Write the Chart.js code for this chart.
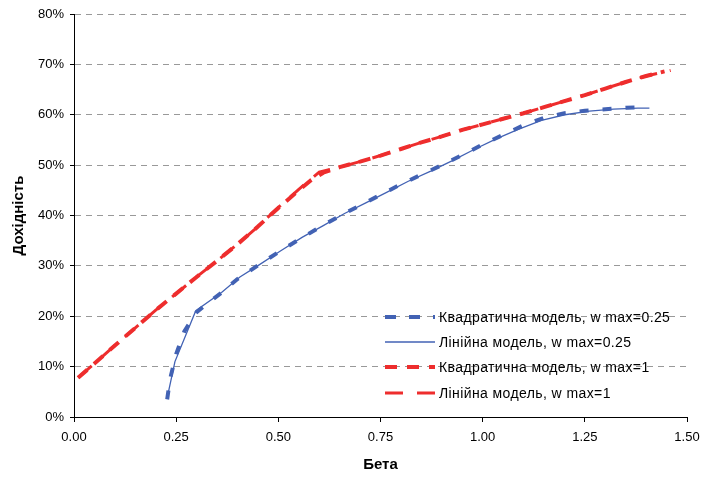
<!DOCTYPE html>
<html>
<head>
<meta charset="utf-8">
<script src="https://cdn.jsdelivr.net/npm/chart.js@4.4.1/dist/chart.umd.min.js"></script>
<style>
  html, body { margin: 0; padding: 0; background: #fff; }
  #wrap { width: 703px; height: 478px; }
</style>
</head>
<body>
<div id="wrap"><canvas id="myChart" width="703" height="478"></canvas></div>
<script>
var seriesNames = [
    'Квадратична модель, w max=0.25',
    'Лінійна модель, w max=0.25',
    'Квадратична модель, w max=1',
    'Лінійна модель, w max=1'
];

// blue, quadratic model, w max = 0.25
var betaBQ = [0.228, 0.235, 0.25, 0.27, 0.30, 0.33, 0.36, 0.40, 0.45, 0.50, 0.55, 0.60, 0.65, 0.70,
    0.75, 0.80, 0.85, 0.90, 0.95, 1.00, 1.05, 1.10, 1.15, 1.20, 1.25, 1.30, 1.35, 1.385];
var retBQ = [3.5, 7.5, 12.5, 17.0, 20.8, 22.8, 24.6, 27.4, 30.1, 32.7, 35.2, 37.6, 39.9, 42.0,
    44.1, 46.2, 48.1, 50.0, 52.0, 54.1, 56.0, 57.9, 59.4, 60.3, 60.8, 61.1, 61.4, 61.5];

// blue, linear model, w max = 0.25
var betaBL = [0.228, 0.247, 0.298, 0.361, 0.406, 0.453, 0.506, 0.559, 0.610, 0.662, 0.714, 0.765,
    0.818, 0.873, 0.926, 0.979, 1.033, 1.087, 1.144, 1.201, 1.261, 1.320, 1.380, 1.408];
var retBL = [3.8, 11.0, 21.1, 24.7, 27.8, 30.2, 33.0, 35.7, 38.0, 40.4, 42.5, 44.6,
    46.8, 48.8, 50.9, 53.1, 55.2, 57.1, 58.9, 60.0, 60.7, 61.1, 61.3, 61.3];

// red, quadratic model, w max = 1
var betaRQ = [0.01, 0.05, 0.10, 0.15, 0.20, 0.25, 0.30, 0.35, 0.40, 0.45, 0.50, 0.55, 0.58, 0.61,
    0.65, 0.70, 0.75, 0.80, 0.85, 0.90, 0.95, 1.00, 1.05, 1.10, 1.15, 1.20, 1.25, 1.30, 1.35, 1.40, 1.445];
var retRQ = [7.8, 10.6, 14.2, 17.7, 21.2, 24.5, 27.8, 31.0, 34.3, 37.8, 41.5, 45.0, 47.0, 48.5,
    49.6, 50.7, 51.9, 53.2, 54.5, 55.7, 57.0, 58.1, 59.2, 60.3, 61.5, 62.7, 63.9, 65.2, 66.5, 67.7, 68.6];

// red, linear model, w max = 1
var betaRL = [0.01, 0.05, 0.10, 0.15, 0.20, 0.25, 0.30, 0.35, 0.40, 0.45, 0.50, 0.55, 0.60,
    0.65, 0.70, 0.75, 0.80, 0.85, 0.90, 0.95, 1.00, 1.05, 1.10, 1.15, 1.20, 1.25, 1.30, 1.35, 1.40, 1.46];
var retRL = [7.8, 10.6, 14.2, 17.7, 21.2, 24.5, 27.8, 31.0, 34.3, 37.8, 41.6, 45.2, 48.6,
    49.6, 50.7, 51.9, 53.2, 54.5, 55.7, 57.0, 58.1, 59.2, 60.3, 61.5, 62.7, 63.9, 65.2, 66.5, 67.7, 68.8];

var xTicks = [0, 0.25, 0.5, 0.75, 1, 1.25, 1.5];
var yTicks = [0, 10, 20, 30, 40, 50, 60, 70, 80];

var blue = '#4262b4';
var red = '#ee2d2d';
var font = "'Liberation Sans', Arial, sans-serif";

function pts(xs, ys) {
    return xs.map(function (x, i) { return { x: x, y: ys[i] }; });
}

// legend look for each series (sample drawn by the plugin below)
var legendStyle = [
    { color: blue, width: 4, dash: [11, 13] },
    { color: blue, width: 1.3, dash: [] },
    { color: red, width: 4, dash: [12, 10] },
    { color: red, width: 3, dash: [18, 14] }
];

var insideLegend = {
    id: 'insideLegend',
    afterDraw: function (chart) {
        var ctx = chart.ctx;
        var rows = [317, 342, 367, 393];
        ctx.save();
        ctx.font = '14px ' + font;
        ctx.letterSpacing = '0.4px';
        ctx.textBaseline = 'middle';
        ctx.fillStyle = '#000';
        seriesNames.forEach(function (name, i) {
            var s = legendStyle[i];
            ctx.beginPath();
            ctx.strokeStyle = s.color;
            ctx.lineWidth = s.width;
            ctx.setLineDash(s.dash);
            ctx.moveTo(385, rows[i]);
            ctx.lineTo(435, rows[i]);
            ctx.stroke();
            ctx.setLineDash([]);
            ctx.fillText(name, 439, rows[i] + 1);
        });
        ctx.restore();
    }
};

var myChart = new Chart('myChart', {
    type: 'scatter',
    data: {
        datasets: [{
            label: seriesNames[0],
            data: pts(betaBQ, retBQ),
            showLine: true,
            borderColor: blue,
            borderWidth: 4,
            borderDash: [9, 14],
            pointRadius: 0
        }, {
            label: seriesNames[1],
            data: pts(betaBL, retBL),
            showLine: true,
            borderColor: blue,
            borderWidth: 1.3,
            pointRadius: 0
        }, {
            label: seriesNames[2],
            data: pts(betaRQ, retRQ),
            showLine: true,
            borderColor: red,
            borderWidth: 4,
            borderDash: [12, 9],
            pointRadius: 0
        }, {
            label: seriesNames[3],
            data: pts(betaRL, retRL),
            showLine: true,
            borderColor: red,
            borderWidth: 3,
            borderDash: [18, 13],
            pointRadius: 0
        }]
    },
    options: {
        responsive: false,
        animation: false,
        layout: { padding: { top: 14, right: 16, left: 0, bottom: 0 } },
        plugins: {
            legend: { display: false },
            tooltip: { enabled: false }
        },
        scales: {
            x: {
                type: 'linear',
                min: 0,
                max: 1.5,
                afterBuildTicks: function (scale) {
                    scale.ticks = xTicks.map(function (v) { return { value: v }; });
                },
                ticks: {
                    color: '#000',
                    font: { family: font, size: 13 },
                    padding: 8,
                    maxRotation: 0,
                    callback: function (v) { return Number(v).toFixed(2); }
                },
                grid: {
                    drawOnChartArea: false,
                    tickLength: 5,
                    tickColor: '#000'
                },
                border: { color: '#000' },
                title: {
                    display: true,
                    text: 'Бета',
                    color: '#000',
                    font: { family: font, size: 15, weight: 'bold' },
                    padding: { top: 15 }
                },
                afterFit: function (scale) {
                    scale.height = 61;
                    scale.paddingLeft = 0;
                    scale.paddingRight = 0;
                }
            },
            y: {
                min: 0,
                max: 80,
                afterBuildTicks: function (scale) {
                    scale.ticks = yTicks.map(function (v) { return { value: v }; });
                },
                ticks: {
                    color: '#000',
                    font: { family: font, size: 13 },
                    padding: 6,
                    callback: function (v) { return v + '%'; }
                },
                grid: {
                    color: '#999',
                    tickBorderDash: [],
                    tickLength: 4,
                    tickColor: '#000'
                },
                border: { color: '#000', dash: [6, 5] },
                title: {
                    display: true,
                    text: 'Дохідність',
                    color: '#000',
                    font: { family: font, size: 15, weight: 'bold' },
                    padding: { top: 10, bottom: 4 }
                },
                afterFit: function (scale) {
                    scale.width = 74;
                    scale.paddingTop = 0;
                    scale.paddingBottom = 0;
                }
            }
        }
    },
    plugins: [insideLegend]
});
</script>
</body>
</html>
